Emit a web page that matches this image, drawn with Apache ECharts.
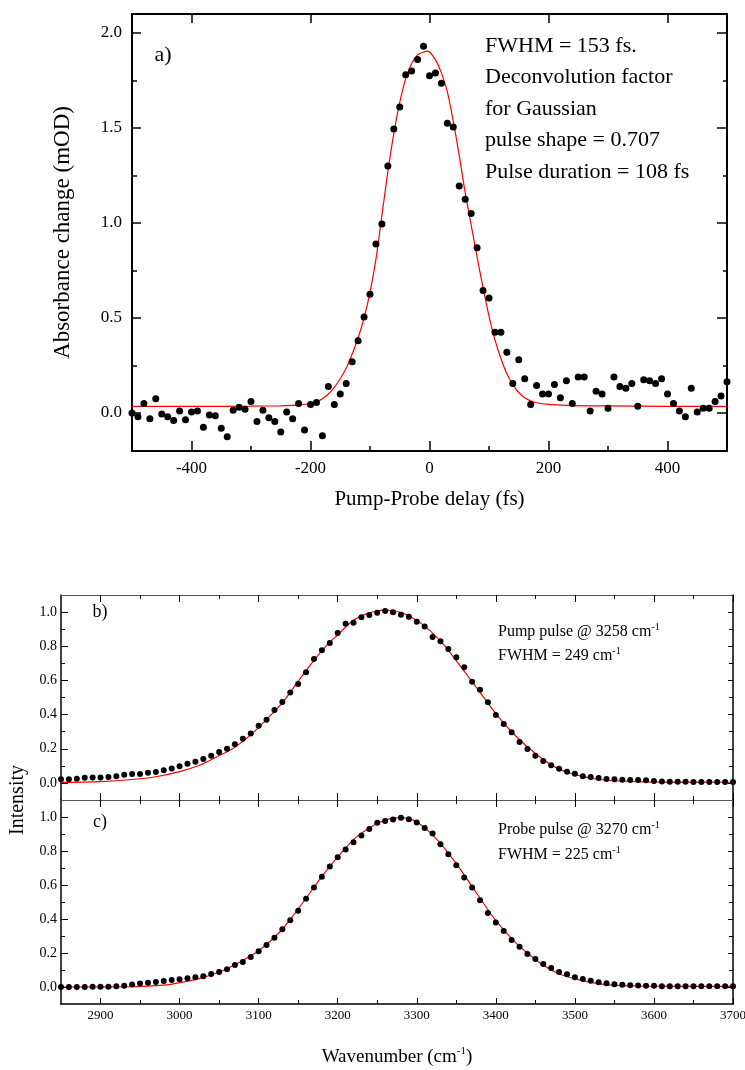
<!DOCTYPE html>
<html>
<head>
<meta charset="utf-8">
<title>Pump-probe cross-correlation and pulse spectra</title>
<script src="https://cdn.jsdelivr.net/npm/echarts@6.0.0/dist/echarts.min.js"></script>
<style>
    html, body { margin: 0; padding: 0; background: #fff; }
    #chartWrap { width: 745px; height: 1070px; }
</style>
</head>
<body>
<div id="chartWrap"></div>
<script>
// a) pump-probe trace
var delayFs = [-500, -490, -480, -470, -460, -450, -440, -430, -420, -410,
    -400, -390, -380, -370, -360, -350, -340, -330, -320, -310,
    -300, -290, -280, -270, -260, -250, -240, -230, -220, -210,
    -200, -190, -180, -170, -160, -150, -140, -130, -120, -110,
    -100, -90, -80, -70, -60, -50, -40, -30, -20, -10,
    0, 10, 20, 30, 40, 50, 60, 70, 80, 90,
    100, 110, 120, 130, 140, 150, 160, 170, 180, 190,
    200, 210, 220, 230, 240, 250, 260, 270, 280, 290,
    300, 310, 320, 330, 340, 350, 360, 370, 380, 390,
    400, 410, 420, 430, 440, 450, 460, 470, 480, 490,
    500];
var absorbance = [0.00, -0.02, 0.05, -0.03, 0.075, -0.005, -0.02, -0.04, 0.01, -0.035,
    0.005, 0.01, -0.075, -0.01, -0.015, -0.08, -0.125, 0.015, 0.03, 0.02,
    0.06, -0.045, 0.015, -0.025, -0.045, -0.10, 0.005, -0.03, 0.05, -0.09,
    0.045, 0.055, -0.12, 0.14, 0.045, 0.10, 0.155, 0.27, 0.38, 0.505,
    0.625, 0.89, 0.995, 1.30, 1.495, 1.61, 1.78, 1.80, 1.86, 1.93,
    1.775, 1.79, 1.735, 1.525, 1.505, 1.195, 1.125, 1.05, 0.87, 0.645,
    0.605, 0.425, 0.425, 0.32, 0.155, 0.28, 0.18, 0.045, 0.145, 0.10,
    0.10, 0.15, 0.08, 0.17, 0.05, 0.19, 0.19, 0.01, 0.115, 0.10,
    0.025, 0.19, 0.14, 0.13, 0.155, 0.035, 0.175, 0.17, 0.155, 0.18,
    0.10, 0.05, 0.01, -0.02, 0.13, 0.005, 0.025, 0.025, 0.06, 0.09,
    0.165];
var fitDelayFs = [-500, -400, -300, -250, -225, -200, -190, -180, -170, -160,
    -150, -140, -130, -120, -110, -100, -90, -80, -70, -60,
    -50, -40, -30, -20, -10, -4, 0, 10, 20, 30,
    40, 50, 60, 70, 80, 90, 100, 110, 120, 130,
    140, 150, 160, 170, 180, 200, 230, 300, 400, 500];
var fitAbsorbance = [0.035, 0.035, 0.036, 0.038, 0.041, 0.05, 0.059, 0.075, 0.10, 0.135,
    0.18, 0.235, 0.31, 0.395, 0.50, 0.635, 0.81, 1.04, 1.27, 1.47,
    1.635, 1.76, 1.84, 1.885, 1.90, 1.905, 1.90, 1.86, 1.79, 1.69,
    1.535, 1.355, 1.16, 0.99, 0.82, 0.66, 0.51, 0.385, 0.287, 0.207,
    0.15, 0.108, 0.08, 0.064, 0.054, 0.045, 0.04, 0.037, 0.035, 0.035];

// b) pump and c) probe spectra
var wavenumber = [2850, 2860, 2870, 2880, 2890, 2900, 2910, 2920, 2930, 2940,
    2950, 2960, 2970, 2980, 2990, 3000, 3010, 3020, 3030, 3040,
    3050, 3060, 3070, 3080, 3090, 3100, 3110, 3120, 3130, 3140,
    3150, 3160, 3170, 3180, 3190, 3200, 3210, 3220, 3230, 3240,
    3250, 3260, 3270, 3280, 3290, 3300, 3310, 3320, 3330, 3340,
    3350, 3360, 3370, 3380, 3390, 3400, 3410, 3420, 3430, 3440,
    3450, 3460, 3470, 3480, 3490, 3500, 3510, 3520, 3530, 3540,
    3550, 3560, 3570, 3580, 3590, 3600, 3610, 3620, 3630, 3640,
    3650, 3660, 3670, 3680, 3690, 3700];
var pumpIntensity = [0.021, 0.022, 0.024, 0.030, 0.032, 0.032, 0.035, 0.039, 0.048, 0.052,
    0.052, 0.060, 0.064, 0.074, 0.085, 0.097, 0.112, 0.124, 0.140, 0.159,
    0.181, 0.200, 0.226, 0.259, 0.290, 0.335, 0.370, 0.427, 0.474, 0.530,
    0.579, 0.648, 0.726, 0.776, 0.819, 0.878, 0.932, 0.938, 0.970, 0.983,
    0.996, 1.006, 0.999, 0.985, 0.973, 0.944, 0.915, 0.854, 0.829, 0.784,
    0.735, 0.677, 0.592, 0.545, 0.472, 0.398, 0.345, 0.296, 0.239, 0.198,
    0.159, 0.128, 0.103, 0.083, 0.066, 0.054, 0.039, 0.035, 0.029, 0.023,
    0.021, 0.019, 0.017, 0.017, 0.015, 0.011, 0.009, 0.007, 0.007, 0.007,
    0.005, 0.005, 0.005, 0.005, 0.005, 0.005];
var probeIntensity = [0.000, 0.000, 0.000, 0.000, 0.001, 0.002, 0.002, 0.004, 0.008, 0.014,
    0.020, 0.025, 0.029, 0.035, 0.041, 0.045, 0.051, 0.057, 0.063, 0.076,
    0.088, 0.104, 0.129, 0.147, 0.176, 0.210, 0.247, 0.290, 0.339, 0.392,
    0.448, 0.519, 0.585, 0.648, 0.709, 0.763, 0.809, 0.852, 0.891, 0.930,
    0.966, 0.977, 0.985, 0.996, 0.987, 0.967, 0.935, 0.903, 0.840, 0.781,
    0.716, 0.644, 0.585, 0.511, 0.436, 0.380, 0.329, 0.276, 0.237, 0.194,
    0.164, 0.135, 0.112, 0.088, 0.075, 0.057, 0.047, 0.037, 0.028, 0.022,
    0.016, 0.013, 0.011, 0.009, 0.007, 0.007, 0.005, 0.005, 0.004, 0.004,
    0.004, 0.004, 0.004, 0.004, 0.004, 0.004];
var pumpFitWn = [2850, 2900, 2940, 2970, 3000, 3026, 3047, 3067, 3085, 3100,
    3115, 3131, 3152, 3173, 3187, 3200, 3220, 3240, 3258, 3270,
    3283, 3308, 3334, 3359, 3380, 3401, 3426, 3452, 3477, 3503,
    3536, 3578, 3620, 3700];
var pumpFitVal = [0.003, 0.008, 0.02, 0.036, 0.066, 0.105, 0.153, 0.20, 0.262, 0.325,
    0.395, 0.475, 0.608, 0.735, 0.81, 0.866, 0.952, 0.995, 1.012, 1.008,
    0.993, 0.925, 0.81, 0.66, 0.53, 0.40, 0.27, 0.165, 0.088, 0.046,
    0.017, 0.008, 0.005, 0.004];
var probeFitWn = [2850, 2940, 2970, 2987, 3000, 3026, 3051, 3077, 3100, 3127,
    3152, 3177, 3200, 3224, 3254, 3279, 3300, 3325, 3350, 3376,
    3401, 3426, 3452, 3477, 3503, 3536, 3578, 3620, 3700];
var probeFitVal = [0.0, 0.002, 0.008, 0.014, 0.025, 0.051, 0.09, 0.149, 0.213, 0.325,
    0.472, 0.632, 0.765, 0.883, 0.971, 0.996, 0.97, 0.87, 0.726, 0.55,
    0.384, 0.257, 0.155, 0.084, 0.045, 0.016, 0.006, 0.004, 0.004];

// tick positions
var delayTicks = [-400, -200, 0, 200, 400];
var delayMinorTicks = [-300, -100, 100, 300];
var absTicks = [0, 0.5, 1, 1.5, 2];
var absMinorTicks = [0.25, 0.75, 1.25, 1.75];
var wnTicks = [2900, 3000, 3100, 3200, 3300, 3400, 3500, 3600, 3700];
var wnMinorTicks = [2950, 3050, 3150, 3250, 3350, 3450, 3550, 3650];
var intTicks = [0, 0.2, 0.4, 0.6, 0.8, 1.0];
var intMinorTicks = [0.1, 0.3, 0.5, 0.7, 0.9];

var FONT = '"Liberation Serif", "Times New Roman", serif';

function zip(xs, ys) {
    return xs.map(function (x, i) { return [x, ys[i]]; });
}

// one value axis; ticks are custom so that min need not sit on a tick
function axis(grid, pos, min, max, ticks, len, o) {
    o = o || {};
    var a = {
        type: 'value', gridIndex: grid, position: pos, min: min, max: max,
        axisLine: {show: !!o.line, onZero: false,
            lineStyle: {color: o.lineColor || '#000', width: o.lineWidth || 1}},
        axisTick: {show: true, inside: true, length: len, customValues: ticks,
            lineStyle: {color: '#000', width: o.tickWidth || 1}},
        axisLabel: {show: false},
        splitLine: {show: false}
    };
    if (o.labels) {
        a.axisLabel = {show: true, customValues: ticks, margin: o.margin, color: '#000',
            fontFamily: FONT, fontSize: o.labelSize, formatter: o.formatter || plain};
    }
    if (o.name) {
        a.name = o.name;
        a.nameLocation = 'middle';
        a.nameGap = o.nameGap;
        a.nameTextStyle = o.nameStyle;
    }
    return a;
}

function oneDecimal(v) { return v.toFixed(1); }
function plain(v) { return String(v); }

var supRich = function (size) {
    return {
        n: {fontFamily: FONT, fontSize: size, color: '#000', lineHeight: size + 4},
        s: {fontFamily: FONT, fontSize: Math.round(size * 0.6), color: '#000',
            verticalAlign: 'top', lineHeight: Math.round(size * 0.6)}
    };
};

function note(x, y, text, size, align) {
    return {
        type: 'text', x: x, y: y, z: 10,
        style: {
            text: text, fill: '#000', font: size + 'px ' + FONT,
            align: align || 'left', textAlign: align || 'left',
            verticalAlign: 'middle', textVerticalAlign: 'middle',
            rich: supRich(size)
        }
    };
}

var xAxes = [
    axis(0, 'bottom', -500, 500, delayTicks, 10, {line: true, lineWidth: 2, tickWidth: 1.5,
        labels: true, labelSize: 17, margin: 9,
        name: 'Pump-Probe delay (fs)', nameGap: 38,
        nameStyle: {fontFamily: FONT, fontSize: 21, color: '#000'}}),
    axis(0, 'bottom', -500, 500, delayMinorTicks, 5, {tickWidth: 1.5}),
    axis(0, 'top', -500, 500, delayTicks, 9, {line: true, lineWidth: 2, tickWidth: 1.5}),

    axis(1, 'bottom', 2850, 3700, wnTicks, 7, {line: true, lineColor: '#555'}),
    axis(1, 'bottom', 2850, 3700, wnMinorTicks, 4),
    axis(1, 'top', 2850, 3700, wnTicks, 7, {line: true, lineColor: '#555'}),
    axis(1, 'top', 2850, 3700, wnMinorTicks, 4),

    axis(2, 'bottom', 2850, 3700, wnTicks, 6, {line: true, lineWidth: 1.5,
        labels: true, labelSize: 13, margin: 5,
        name: '{n|Wavenumber (cm}{s|-1}{n|)}', nameGap: 42,
        nameStyle: {rich: supRich(19)}}),
    axis(2, 'bottom', 2850, 3700, wnMinorTicks, 4),
    axis(2, 'top', 2850, 3700, wnTicks, 7),
    axis(2, 'top', 2850, 3700, wnMinorTicks, 4)
];

var yAxes = [
    axis(0, 'left', -0.2, 2.1, absTicks, 9, {line: true, lineWidth: 2, tickWidth: 1.5,
        labels: true, labelSize: 17, margin: 10, formatter: oneDecimal,
        name: 'Absorbance change (mOD)', nameGap: 58,
        nameStyle: {fontFamily: FONT, fontSize: 23, color: '#000'}}),
    axis(0, 'left', -0.2, 2.1, absMinorTicks, 5, {tickWidth: 1.5}),
    axis(0, 'right', -0.2, 2.1, absTicks, 10, {line: true, lineWidth: 2, tickWidth: 1.5}),
    axis(0, 'right', -0.2, 2.1, absMinorTicks, 4, {tickWidth: 1.5}),

    axis(1, 'left', -0.1, 1.1, intTicks, 7, {line: true, lineWidth: 1.5,
        labels: true, labelSize: 14, margin: 4, formatter: oneDecimal}),
    axis(1, 'left', -0.1, 1.1, intMinorTicks, 4),
    axis(1, 'right', -0.1, 1.1, intTicks, 5, {line: true, lineWidth: 1.5}),
    axis(1, 'right', -0.1, 1.1, intMinorTicks, 4),

    axis(2, 'left', -0.1, 1.1, intTicks, 7, {line: true, lineWidth: 1.5,
        labels: true, labelSize: 14, margin: 4, formatter: oneDecimal}),
    axis(2, 'left', -0.1, 1.1, intMinorTicks, 4),
    axis(2, 'right', -0.1, 1.1, intTicks, 5, {line: true, lineWidth: 1.5}),
    axis(2, 'right', -0.1, 1.1, intMinorTicks, 4)
];

function fitLine(xi, yi, data) {
    return {type: 'line', xAxisIndex: xi, yAxisIndex: yi, data: data, showSymbol: false,
        smooth: 0.3, silent: true, z: 2, lineStyle: {color: '#ff0000', width: 1.2}};
}

function dots(xi, yi, data, size) {
    return {type: 'scatter', xAxisIndex: xi, yAxisIndex: yi, data: data, symbolSize: size,
        silent: true, z: 3, itemStyle: {color: '#000', opacity: 1}};
}

var myChart = echarts.init(document.getElementById('chartWrap'), null, {renderer: 'canvas'});

myChart.setOption({
    animation: false,
    backgroundColor: '#fff',
    grid: [
        {left: 132, top: 14, width: 595, height: 437, containLabel: false, outerBoundsMode: 'none'},
        {left: 61, top: 595, width: 672, height: 205, containLabel: false, outerBoundsMode: 'none'},
        {left: 61, top: 800, width: 672, height: 204, containLabel: false, outerBoundsMode: 'none'}
    ],
    xAxis: xAxes,
    yAxis: yAxes,
    series: [
        fitLine(0, 0, zip(fitDelayFs, fitAbsorbance)),
        dots(0, 0, zip(delayFs, absorbance), 7),
        fitLine(3, 4, zip(pumpFitWn, pumpFitVal)),
        dots(3, 4, zip(wavenumber, pumpIntensity), 6),
        fitLine(7, 8, zip(probeFitWn, probeFitVal)),
        dots(7, 8, zip(wavenumber, probeIntensity), 6)
    ],
    graphic: [
        note(163, 55, 'a)', 22, 'center'),
        note(485, 46, 'FWHM = 153 fs.', 22),
        note(485, 77.5, 'Deconvolution factor', 22),
        note(485, 109, 'for Gaussian', 22),
        note(485, 140.5, 'pulse shape = 0.707', 22),
        note(485, 172, 'Pulse duration = 108 fs', 22),

        note(100, 612, 'b)', 18, 'center'),
        note(498, 632, '{n|Pump pulse @ 3258 cm}{s|-1}', 16),
        note(498, 656, '{n|FWHM = 249 cm}{s|-1}', 16),

        note(100, 822, 'c)', 18, 'center'),
        note(498, 830, '{n|Probe pulse @ 3270 cm}{s|-1}', 16),
        note(498, 855, '{n|FWHM = 225 cm}{s|-1}', 16),

        {
            type: 'text', x: 18, y: 800, rotation: Math.PI / 2, z: 10,
            style: {text: 'Intensity', fill: '#000', font: '20px ' + FONT,
                align: 'center', textAlign: 'center',
                verticalAlign: 'middle', textVerticalAlign: 'middle'}
        }
    ]
});
</script>
</body>
</html>
